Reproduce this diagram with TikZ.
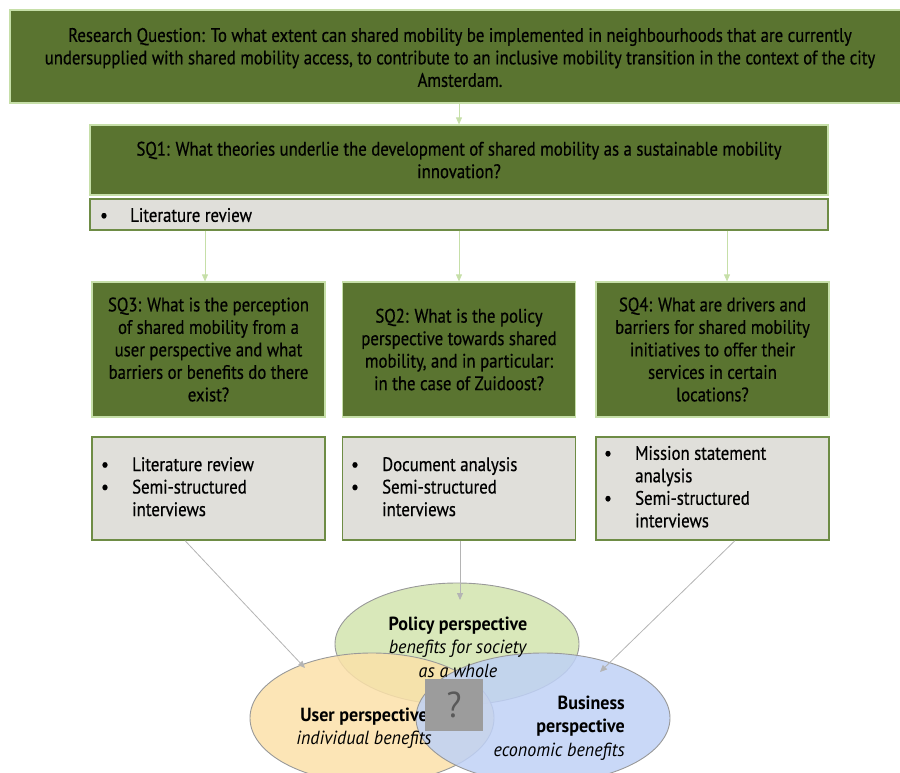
\documentclass[tikz,border=0pt]{standalone}
\usepackage{fontspec}
\setmainfont[FakeStretch=0.86,FakeBold=0.6]{PT Sans}
\newfontfamily\vennfont[FakeStretch=0.95]{PT Sans}
\usetikzlibrary{arrows.meta,shapes.geometric,calc}
\definecolor{qgreen}{HTML}{5A7430}
\definecolor{qborder}{HTML}{C6DFA8}
\definecolor{mfill}{HTML}{E0DFDA}
\definecolor{mborder}{HTML}{6E8C45}
\definecolor{garrow}{HTML}{C6DFA8}
\definecolor{grayarrow}{HTML}{B4B4B4}
\definecolor{polfill}{HTML}{D2E4AE}
\definecolor{userfill}{HTML}{FBE1A9}
\definecolor{busfill}{HTML}{BFD1F6}
\definecolor{qmark}{HTML}{9C9C9C}
\tikzset{
  qbox/.style={draw=qborder, fill=qgreen, line width=1.2pt, align=center, inner sep=0pt, text=black},
  mbox/.style={draw=mborder, fill=mfill, line width=1.2pt, inner sep=0pt},
  garr/.style={draw=garrow, line width=0.8pt, -{Triangle[length=7pt,width=6pt]}},
  grarr/.style={draw=grayarrow, line width=0.8pt, -{Triangle[length=7pt,width=6pt]}},
  venn/.style={ellipse, draw=gray!80, line width=0.9pt, fill opacity=0.85, inner sep=0pt},
  vtext/.style={font=\vennfont\fontsize{19}{23.5}\selectfont, align=center, inner sep=0pt},
  mtext/.style={anchor=west, inner sep=0pt, align=left}
}
\begin{document}
\begin{tikzpicture}[x=1pt,y=-1pt,font=\fontsize{19.5}{22.5}\selectfont]
\useasboundingbox (0,0) rectangle (900,772);
% research question
\node[qbox, minimum width=905pt, minimum height=93pt] (rq) at (462.5,56.5) {};
\node[align=center, inner sep=0pt] (rqt) at (460,57.5) {Research Question: To what extent can shared mobility be implemented in neighbourhoods that are currently\\
undersupplied with shared mobility access, to contribute to an inclusive mobility transition in the context of the city\\
Amsterdam.};
% SQ1
\node[qbox, minimum width=738pt, minimum height=70pt] (sq1) at (459,160) {SQ1: What theories underlie the development of shared mobility as a sustainable mobility\\ innovation?};
\node[mbox, minimum width=738pt, minimum height=31pt] (lit) at (459,214.5) {};
\node[mtext] (litt) at (100,215) {\makebox[30pt][l]{\textbullet}Literature review};
\draw[garr] (rq.south -| sq1.north) -- (sq1.north);
% SQ boxes
\node[qbox, minimum width=233pt, minimum height=135pt] (sq3) at (208.5,349.5) {SQ3: What is the perception\\ of shared mobility from a\\ user perspective and what\\ barriers or benefits do there\\ exist?};
\node[qbox, minimum width=233pt, minimum height=135pt] (sq2) at (459,349.5) {SQ2: What is the policy\\ perspective towards shared\\ mobility, and in particular:\\ in the case of Zuidoost?};
\node[qbox, minimum width=233pt, minimum height=135pt] (sq4) at (712.5,349.5) {SQ4: What are drivers and\\ barriers for shared mobility\\ initiatives to offer their\\ services in certain\\ locations?};
\coordinate (l3) at (lit.south -| 205,0);
\coordinate (l4) at (lit.south -| 727,0);
\draw[garr] (l3) -- (l3 |- sq3.north);
\draw[garr] (lit.south -| sq2.north) -- (sq2.north);
\draw[garr] (l4) -- (l4 |- sq4.north);
% method boxes
\node[mbox, minimum width=233pt, minimum height=103pt] (m3) at (208.5,488.5) {};
\node[mbox, minimum width=233pt, minimum height=103pt] (m2) at (459,488.5) {};
\node[mbox, minimum width=233pt, minimum height=103pt] (m4) at (712.5,488.5) {};
\node[mtext] (m3t) at (101,489) {\begin{tabular}{@{}p{31pt}@{}l@{}}\textbullet & Literature review\\ \textbullet & Semi-structured\\ & interviews\end{tabular}};
\node[mtext] (m2t) at (351,489) {\begin{tabular}{@{}p{31pt}@{}l@{}}\textbullet & Document analysis\\ \textbullet & Semi-structured\\ & interviews\end{tabular}};
\node[mtext] (m4t) at (604,489) {\begin{tabular}{@{}p{31pt}@{}l@{}}\textbullet & Mission statement\\ & analysis\\ \textbullet & Semi-structured\\ & interviews\end{tabular}};
% venn
\node[venn, fill=polfill, minimum width=244pt, minimum height=122pt] (pol) at (457,644) {};
\node[venn, fill=userfill, minimum width=244pt, minimum height=130pt] (usr) at (372,718) {};
\node[venn, fill=busfill, minimum width=254pt, minimum height=130pt] (bus) at (543,718) {};
\node[vtext] (polt) at (458,647) {\textbf{Policy perspective}\\ \textit{benefits for society}\\ \textit{as a whole}};
\node[vtext] (usrt) at (364,728) {\textbf{User perspective}\\ \textit{individual benefits}};
\node[vtext, align=right, anchor=east] (bust) at (625,728) {\textbf{Business}\\ \textbf{perspective}\\ \textit{economic benefits}};
\node[fill=qmark, minimum width=58pt, minimum height=52pt, inner sep=0pt, text=gray!70!black, font=\vennfont\fontsize{36}{36}\selectfont] (qm) at (454,705) {?};
% gray arrows
\coordinate (ua) at (305,668);
\coordinate (pa) at (460,600);
\coordinate (ba) at (600,672);
\draw[grarr] (m3.south -| 185,0) -- (ua);
\draw[grarr] (m2.south -| pa) -- (pa);
\draw[grarr] (m4.south -| 735,0) -- (ba);
\end{tikzpicture}
\end{document}
